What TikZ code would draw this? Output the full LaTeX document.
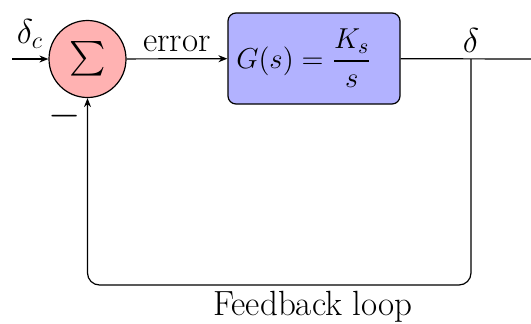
\documentclass[tikz,border=0pt]{standalone}
\usepackage{amsmath}
\usetikzlibrary{arrows.meta}
\begin{document}
\begin{tikzpicture}[x=0.5pt,y=-0.5pt,
  font=\fontsize{17.5}{20}\selectfont,
  >={Stealth[length=4.5pt,width=3.5pt]},
  line width=0.6pt,
  sumnode/.style={circle, draw, fill=red!30, minimum size=38.5pt, inner sep=0pt},
  blocknode/.style={draw, rounded corners=4pt, fill=blue!30, minimum width=86pt, minimum height=45.5pt, inner sep=2pt}]
\useasboundingbox (0,0) rectangle (531,323);
\node[sumnode] (sum) at (87.5,59) {\fontsize{19}{22}\selectfont$\sum$};
\node[blocknode] (G) at (314,58.5) {\fontsize{15}{18}\selectfont$G(s)=\dfrac{K_s}{s}$\hspace*{10pt}};
\coordinate (in) at (12,59);
\coordinate (out) at (531,59);
\coordinate (br) at (471,59);
\coordinate (bR) at (471,285);
\coordinate (bL) at (87.5,285);
\draw[->] (in) -- (sum);
\draw[->] (sum) -- node[above, inner sep=3pt] (err) {error} (G);
\draw (G) -- (out);
\node[above, inner sep=3pt] (d) at (br) {\fontsize{18}{20}\selectfont$\delta$};
\draw[->, rounded corners=6pt] (br) -- (bR) -- (bL) -- (sum.south);
\node (dc) at (30,34) {\fontsize{18}{20}\selectfont$\delta_c$};
\node (minus) at (65,116) {\fontsize{21}{22}\selectfont$-$};
\node (fb) at (313,307) {Feedback loop};
\end{tikzpicture}
\end{document}
